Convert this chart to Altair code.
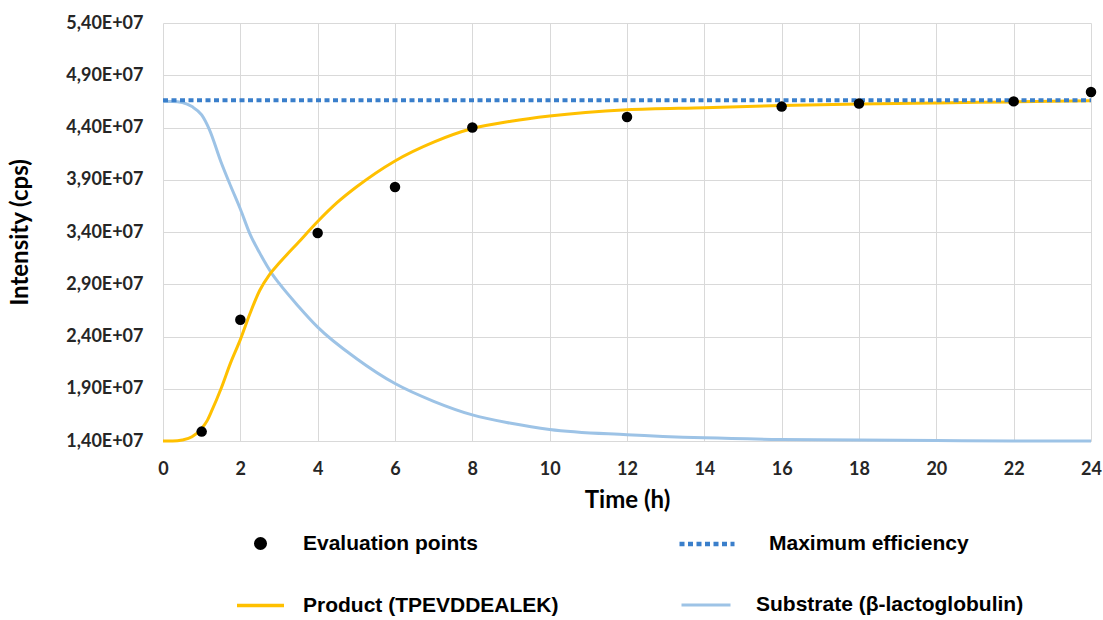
import altair as alt
import pandas as pd

# ---- data ----
eval_name = "Evaluation points"
eval_t = [1, 2, 4, 6, 8, 12, 16, 18, 22, 24]
eval_v = [1.49e7, 2.56e7, 3.39e7, 3.83e7, 4.40e7, 4.50e7, 4.60e7, 4.63e7, 4.65e7, 4.74e7]

prod_name = "Product (TPEVDDEALEK)"
prod_t = [0, 0.25, 0.5, 0.75, 1.0, 1.15, 1.25, 1.5, 1.75, 2.0, 2.25, 2.5, 2.75, 3.0, 3.5,
          4.0, 4.5, 5.0, 6.0, 7.0, 8.0, 9.0, 10.0, 12.0, 14.0, 16.0, 18.0, 20.0, 22.0, 24.0]
prod_v = [1.40e7, 1.40e7, 1.41e7, 1.44e7, 1.52e7, 1.60e7, 1.68e7, 1.90e7, 2.15e7, 2.37e7,
          2.62e7, 2.84e7, 2.99e7, 3.10e7, 3.30e7, 3.50e7, 3.68e7, 3.83e7, 4.08e7, 4.26e7,
          4.39e7, 4.46e7, 4.51e7, 4.57e7, 4.59e7, 4.61e7, 4.625e7, 4.635e7, 4.645e7, 4.655e7]

sub_name = "Substrate (β-lactoglobulin)"
sub_t = [0, 0.25, 0.5, 0.75, 1.0, 1.2, 1.5, 1.75, 2.0, 2.25, 2.5, 2.82, 3.0, 3.5, 4.0,
         5.0, 6.0, 7.0, 8.0, 9.0, 10.0, 12.0, 14.0, 16.0, 18.0, 20.0, 22.0, 24.0]
sub_v = [4.65e7, 4.65e7, 4.64e7, 4.60e7, 4.52e7, 4.38e7, 4.07e7, 3.84e7, 3.62e7, 3.38e7,
         3.20e7, 3.00e7, 2.91e7, 2.69e7, 2.49e7, 2.19e7, 1.95e7, 1.78e7, 1.65e7, 1.57e7,
         1.51e7, 1.46e7, 1.43e7, 1.415e7, 1.41e7, 1.405e7, 1.40e7, 1.40e7]

max_name = "Maximum efficiency"
max_t = [0, 24]
max_v = [4.66e7, 4.66e7]

x_ticks = list(range(0, 25, 2))
y_ticks = [1.4e7, 1.9e7, 2.4e7, 2.9e7, 3.4e7, 3.9e7, 4.4e7, 4.9e7, 5.4e7]

# ---- tables ----
df_eval = pd.DataFrame({"t": eval_t, "v": eval_v, "series": eval_name})
df_prod = pd.DataFrame({"t": prod_t, "v": prod_v, "series": prod_name})
df_sub = pd.DataFrame({"t": sub_t, "v": sub_v, "series": sub_name})
df_max = pd.DataFrame({"t": max_t, "v": max_v, "series": max_name})

LEG_FONT = "Liberation Sans"
leg_common = dict(orient="none", title=None, labelFont=LEG_FONT, labelFontSize=21,
                  labelFontWeight="bold", labelColor="#000000", padding=0, labelLimit=0)

x_enc = alt.X("t:Q", scale=alt.Scale(domain=[0, 24], nice=False),
              axis=alt.Axis(values=x_ticks, title="Time (h)", format="d", labelFlush=False))
y_enc = alt.Y("v:Q", scale=alt.Scale(domain=[1.4e7, 5.4e7], nice=False, zero=False),
              axis=alt.Axis(values=y_ticks, title="Intensity (cps)",
                            labelExpr="replace(format(datum.value/1e7, '.2f'), '.', ',') + 'E+07'"))

sub_layer = alt.Chart(df_sub).mark_line(interpolate="monotone", color="#9DC3E6").encode(
    x=x_enc, y=y_enc,
    strokeWidth=alt.StrokeWidth("series:N", scale=alt.Scale(domain=[sub_name], range=[3, 3]),
                                legend=alt.Legend(symbolType="stroke", symbolSize=2401,
                                                  symbolStrokeColor="#9DC3E6", symbolStrokeWidth=3.5,
                                                  legendX=517, legendY=556, labelOffset=24,
                                                  **leg_common)),
)

prod_layer = alt.Chart(df_prod).mark_line(interpolate="monotone", strokeWidth=3).encode(
    x=x_enc, y=y_enc,
    color=alt.Color("series:N", scale=alt.Scale(domain=[prod_name], range=["#FFC000"]),
                    legend=alt.Legend(symbolType="stroke", symbolSize=2209, symbolStrokeWidth=3.5,
                                      legendX=72, legendY=557, labelOffset=17, **leg_common)),
)

max_layer = alt.Chart(df_max).mark_line(color="#3A7FCB", strokeWidth=4).encode(
    x=x_enc, y=y_enc,
    strokeDash=alt.StrokeDash("series:N", scale=alt.Scale(domain=[max_name], range=[[5, 3.5]]),
                              legend=alt.Legend(symbolType="stroke", symbolSize=3025,
                                                symbolStrokeColor="#3A7FCB", symbolStrokeWidth=4.5,
                                                legendX=514, legendY=491, labelOffset=32,
                                                **leg_common)),
)

eval_layer = alt.Chart(df_eval).mark_point(filled=True, color="#000000", size=110, opacity=1).encode(
    x=x_enc, y=y_enc,
    shape=alt.Shape("series:N", scale=alt.Scale(domain=[eval_name], range=["circle"]),
                    legend=alt.Legend(symbolSize=170, symbolFillColor="#000000",
                                      symbolStrokeColor="#000000", symbolOpacity=1,
                                      legendX=87, legendY=510, labelOffset=32, **leg_common)),
)

chart = alt.layer(sub_layer, prod_layer, max_layer, eval_layer).resolve_legend(
    color="independent", shape="independent", strokeDash="independent", strokeWidth="independent"
).properties(
    width=928, height=418,
    padding={"left": 163, "top": 23, "right": 12, "bottom": 179},
    autosize=alt.AutoSizeParams(type="none"),
    background="#ffffff",
).configure_view(stroke=None).configure_axis(
    grid=True, gridColor="#d9d9d9", gridWidth=1, domain=False, ticks=False,
    labelFont="Lato", labelFontSize=18, labelFontWeight="bold", labelColor="#262626",
    titleFont="Lato", titleFontSize=24, titleFontWeight="bold", titleColor="#000000",
).configure_axisX(labelPadding=19, titlePadding=10).configure_axisY(labelPadding=20, titlePadding=33)

chart.save("out.html", embed_options={"renderer": "svg", "actions": False})
